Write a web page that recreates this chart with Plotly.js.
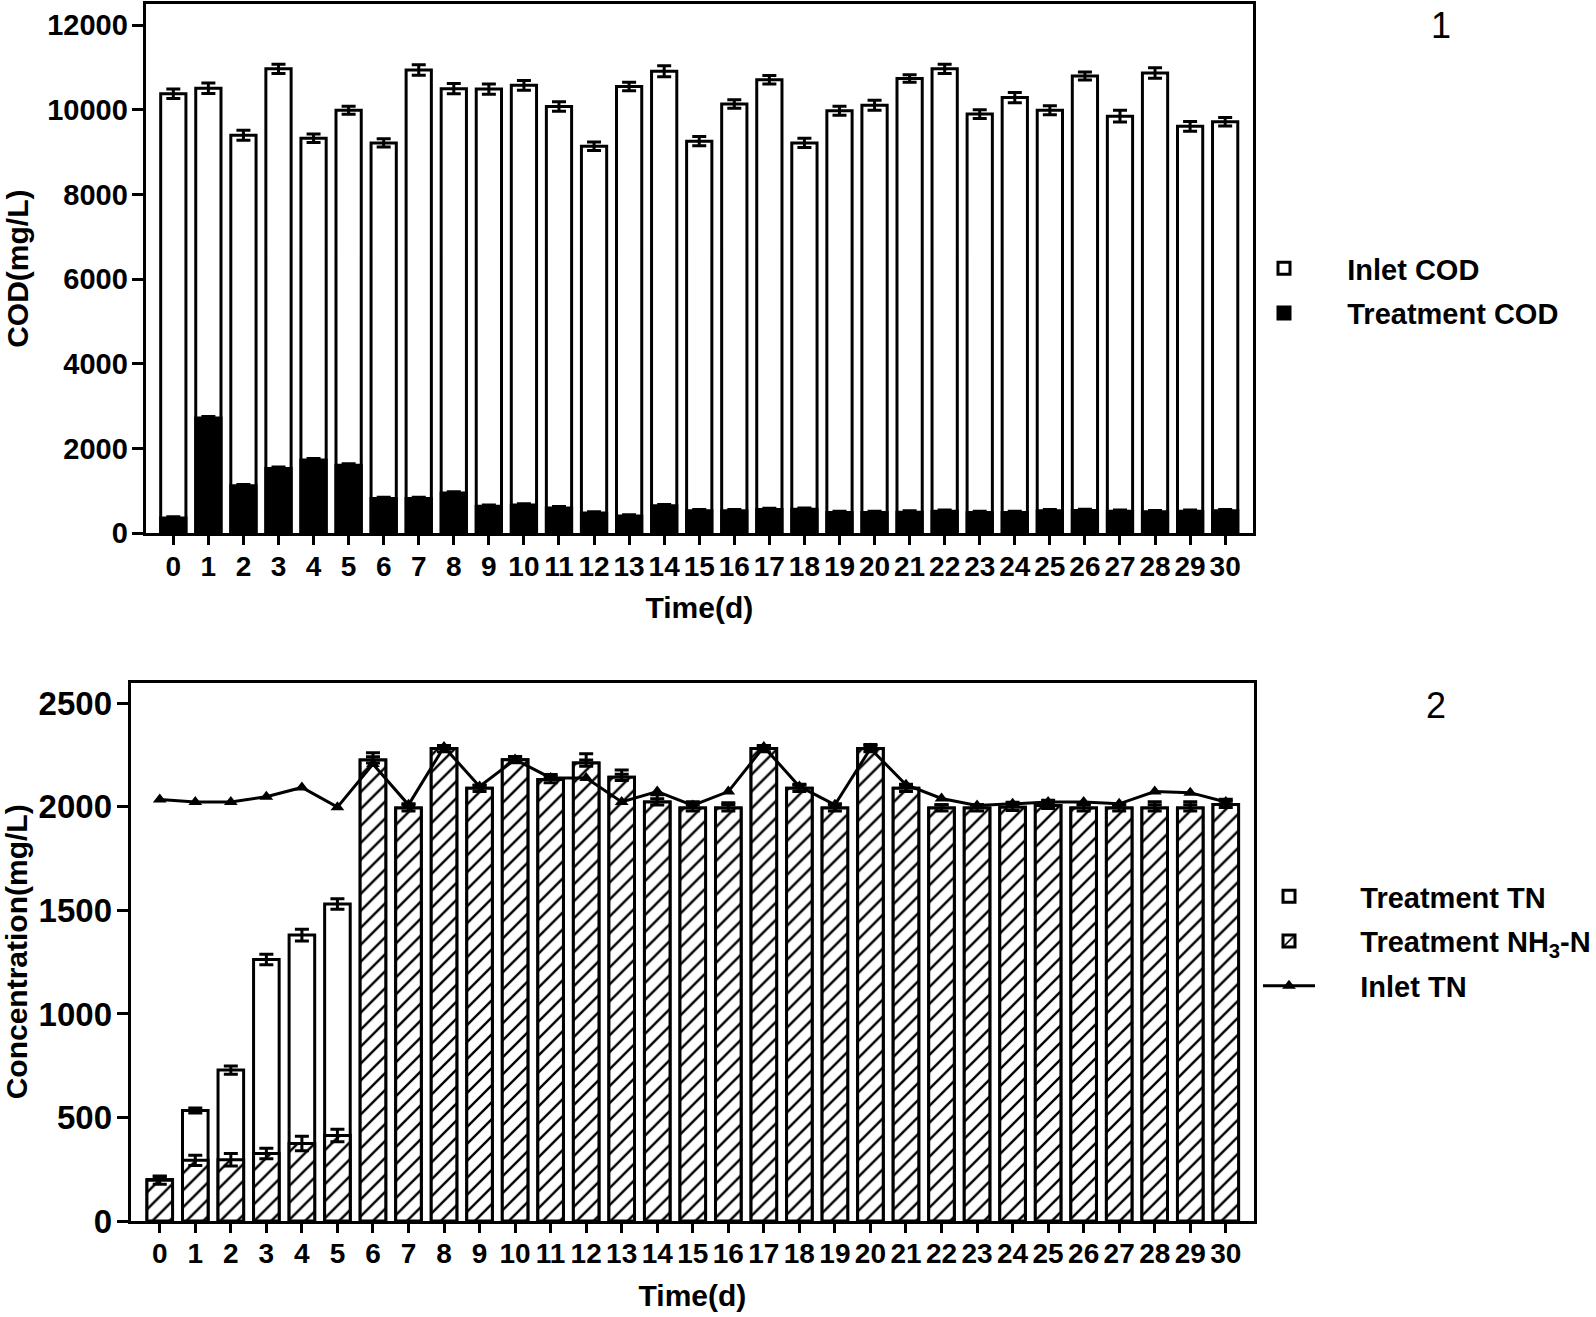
<!DOCTYPE html>
<html>
<head>
<meta charset="utf-8">
<script src="https://cdn.plot.ly/plotly-3.0.1.min.js"></script>
<style>
  html, body { margin: 0; padding: 0; background: #fff; }
  #chart { width: 1596px; height: 1317px; }
</style>
</head>
<body>
<div id="chart"></div>
<script>
'use strict';

// ── data ──
const days = [0,1,2,3,4,5,6,7,8,9,10,11,12,13,14,15,16,17,18,19,20,21,22,23,24,25,26,27,28,29,30];

// panel 1: COD (mg/L)
const inletCOD    = [10380,10510,9400,10970,9330,9990,9220,10940,10500,10490,10580,10080,9140,10550,10910,
                     9260,10140,10710,9220,9980,10110,10740,10970,9900,10290,9990,10800,9850,10870,9610,9720];
const inletCODerr = [110,125,120,110,100,95,100,125,120,120,115,110,100,100,130,
                     110,100,100,110,105,118,90,110,105,120,105,95,138,125,115,100];
const treatCOD    = [360,2720,1120,1530,1730,1610,820,820,950,640,670,600,480,410,650,
                     530,530,560,570,490,490,500,520,490,490,530,540,520,510,520,530];
const treatCODerr = [30,40,35,35,35,35,30,30,30,30,30,30,30,30,30,
                     30,30,30,30,30,30,30,30,30,30,30,30,30,30,30,30];
const codTicks    = [0, 2000, 4000, 6000, 8000, 10000, 12000];

// panel 2: nitrogen (mg/L)
const treatTN     = [200,534,729,1263,1381,1531,2227,1995,2282,2090,2228,2132,2212,2143,2024,
                     1995,1995,2282,2090,1995,2282,2090,1995,1995,1998,2007,1995,1995,1995,1995,2012];
const treatTNerr  = [15,12,20,25,28,25,35,20,15,15,15,25,45,35,35,
                     30,25,15,20,20,20,20,15,15,25,25,15,15,30,30,25];
const treatNH3    = [197,293,296,326,374,413,2227,1995,2282,2090,2228,2132,2212,2143,2024,
                     1995,1995,2282,2090,1995,2282,2090,1995,1995,1998,2007,1995,1995,1995,1995,2012];
const treatNH3err = [20,25,30,25,35,30,15,15,15,15,15,15,15,15,15,
                     15,15,15,15,15,15,15,15,15,15,15,15,15,15,15,15];
const inletTN     = [2036,2024,2024,2049,2094,1999,2207,2010,2290,2099,2229,2140,2140,2024,2074,
                     2007,2074,2290,2099,2010,2282,2107,2041,2007,2015,2024,2024,2015,2074,2069,2024];
const concTicks   = [0, 500, 1000, 1500, 2000, 2500];

// ── styling ──
const FONT = 'Liberation Sans, Arial, Helvetica, sans-serif';
const W = 1596, H = 1317;
const px = v => v / W, py = v => 1 - v / H;
const pad = n => '\u00A0'.repeat(n);
const bold = size => ({ family: FONT, size, color: '#000', weight: 'bold' });
const titleF = bold(30);
const errStyle = (arr) => ({ type: 'data', array: arr, visible: true, color: '#000', thickness: 3, width: 7 });
const barLine = { color: '#000', width: 3 };

const traces = [
    { x: days, y: inletCOD, type: 'bar', name: pad(4) + 'Inlet COD', width: 0.72, xaxis: 'x', yaxis: 'y',
      marker: { color: '#fff', line: barLine }, error_y: errStyle(inletCODerr), legend: 'legend', legendgroup: 'a' },
    { x: days, y: treatCOD, type: 'bar', name: pad(4) + 'Treatment COD', width: 0.72, xaxis: 'x', yaxis: 'y',
      marker: { color: '#000', line: barLine }, error_y: errStyle(treatCODerr), legend: 'legend', legendgroup: 'b' },

    { x: days, y: treatTN, type: 'bar', name: pad(5) + 'Treatment TN', width: 0.72, xaxis: 'x2', yaxis: 'y2',
      marker: { color: '#fff', line: barLine }, error_y: errStyle(treatTNerr), legend: 'legend2', legendgroup: 'c' },
    { x: days, y: treatNH3, type: 'bar', name: pad(5) + 'Treatment NH<sub>3</sub>-N', width: 0.72, xaxis: 'x2', yaxis: 'y2',
      marker: { color: '#fff', line: barLine, pattern: { shape: '/', fgcolor: '#000', bgcolor: '#fff', size: 12, solidity: 0.2 } },
      error_y: errStyle(treatNH3err), legend: 'legend2', legendgroup: 'd' },
    { x: days, y: inletTN, type: 'scatter', mode: 'lines+markers', name: pad(5) + 'Inlet TN', xaxis: 'x2', yaxis: 'y2',
      line: { color: '#000', width: 3 }, marker: { symbol: 'triangle-up', size: 12, color: '#000' },
      legend: 'legend2', legendgroup: 'e' }
];

const xBase = {
    tickmode: 'array', tickvals: days, ticktext: days.map(String),
    ticks: 'outside', ticklen: 9, tickwidth: 3, tickcolor: '#000',
    showline: true, linewidth: 3, linecolor: '#000', mirror: true,
    showgrid: false, zeroline: false, tickfont: bold(28)
};
const yBase = {
    tickmode: 'array', ticks: 'outside', ticklen: 11, tickwidth: 3, tickcolor: '#000',
    showline: true, linewidth: 3, linecolor: '#000', mirror: true,
    showgrid: false, zeroline: false
};

const legendBase = {
    bgcolor: 'rgba(0,0,0,0)', borderwidth: 0, xanchor: 'left', yanchor: 'top',
    font: bold(29), itemwidth: 52, tracegroupgap: 4, traceorder: 'grouped'
};

const layout = {
    width: W, height: H, paper_bgcolor: '#fff', plot_bgcolor: '#fff',
    margin: { l: 0, r: 0, t: 0, b: 0 },
    barmode: 'overlay', showlegend: true,
    xaxis: Object.assign({}, xBase, { domain: [px(145.7), px(1254)], range: [-0.79, 30.8], anchor: 'y',
        ticklabelstandoff: -3, title: { text: 'Time(d)', font: titleF, standoff: 17 } }),
    yaxis: Object.assign({}, yBase, { domain: [py(533.3), py(4)], range: [0, 12500], anchor: 'x',
        tickvals: codTicks, ticktext: codTicks.map(String), tickfont: bold(29), ticklabelstandoff: -2,
        title: { text: 'COD(mg/L)', font: titleF, standoff: 10 } }),
    xaxis2: Object.assign({}, xBase, { domain: [px(130.7), px(1255)], range: [-0.82, 30.8], anchor: 'y2',
        ticklabelstandoff: -4, title: { text: 'Time(d)', font: titleF, standoff: 18 } }),
    yaxis2: Object.assign({}, yBase, { domain: [py(1221), py(682.7)], range: [0, 2600], anchor: 'x2',
        tickvals: concTicks, ticktext: concTicks.map(String), tickfont: bold(33), ticklabelstandoff: -2,
        title: { text: 'Concentration(mg/L)', font: titleF, standoff: 4 } }),
    legend: Object.assign({}, legendBase, { x: px(1253), y: py(243) }),
    legend2: Object.assign({}, legendBase, { x: px(1259), y: py(871) }),
    annotations: [
        { text: '1', xref: 'paper', yref: 'paper', x: px(1442), y: py(25), xanchor: 'center', yanchor: 'middle',
          showarrow: false, font: { family: FONT, size: 36, color: '#000' } },
        { text: '2', xref: 'paper', yref: 'paper', x: px(1437), y: py(705), xanchor: 'center', yanchor: 'middle',
          showarrow: false, font: { family: FONT, size: 36, color: '#000' } }
    ]
};

Plotly.newPlot('chart', traces, layout, { staticPlot: true, displayModeBar: false });
</script>
</body>
</html>
